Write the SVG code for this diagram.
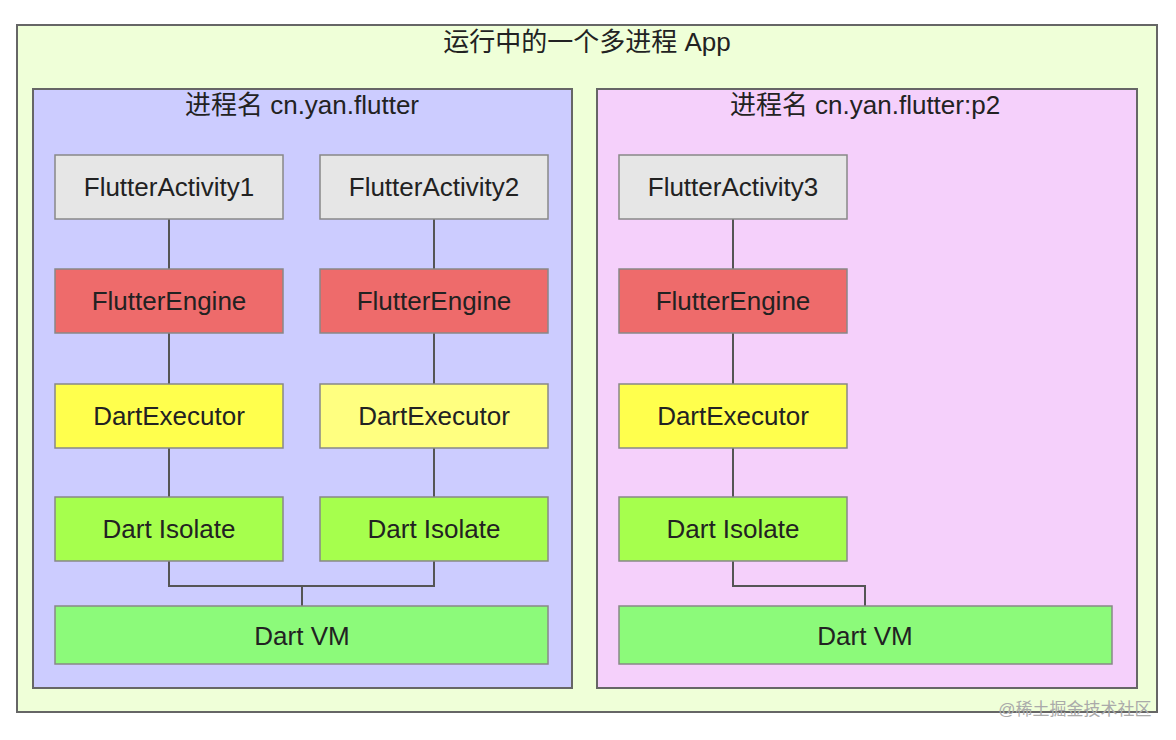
<svg xmlns="http://www.w3.org/2000/svg" width="1176" height="740" viewBox="0 0 1176 740">
<style>
text{font-family:"Liberation Sans","Noto Sans CJK SC",sans-serif;fill:#222;text-anchor:middle}
.t{font-size:26px}
.n{font-size:26px}
rect{stroke:#666;stroke-width:2}
.b{stroke:#888;stroke-width:1.5}
.c line,.c polyline{stroke:#555;stroke-width:2;fill:none}
</style>
<rect width="1176" height="740" fill="#fff" style="stroke:none"/>
<g id="app"><rect x="17" y="25" width="1140" height="687" fill="#efffd8"/><text class="t" x="587" y="51">运行中的一个多进程 App</text></g>
<g id="p1"><rect x="33" y="89" width="539" height="599" fill="#ccccff"/><text class="t" x="302" y="114">进程名 cn.yan.flutter</text></g>
<g id="p2"><rect x="597" y="89" width="540" height="599" fill="#f5d0fb"/><text class="t" x="865" y="114">进程名 cn.yan.flutter:p2</text></g>
<g class="c" id="connectors">
<line x1="169" y1="219" x2="169" y2="269"/><line x1="169" y1="333" x2="169" y2="384"/><line x1="169" y1="448" x2="169" y2="497"/>
<line x1="434" y1="219" x2="434" y2="269"/><line x1="434" y1="333" x2="434" y2="384"/><line x1="434" y1="448" x2="434" y2="497"/>
<line x1="733" y1="219" x2="733" y2="269"/><line x1="733" y1="333" x2="733" y2="384"/><line x1="733" y1="448" x2="733" y2="497"/>
<polyline points="169,561 169,586 434,586 434,561"/><line x1="302" y1="586" x2="302" y2="606"/>
<polyline points="733,561 733,586 865,586 865,606"/>
</g>
<g id="a1"><rect class="b" x="55" y="155" width="228" height="64" fill="#e6e6e6"/><text class="n" x="169" y="196">FlutterActivity1</text></g>
<g id="a2"><rect class="b" x="320" y="155" width="228" height="64" fill="#e6e6e6"/><text class="n" x="434" y="196">FlutterActivity2</text></g>
<g id="a3"><rect class="b" x="619" y="155" width="228" height="64" fill="#e6e6e6"/><text class="n" x="733" y="196">FlutterActivity3</text></g>
<g id="e1"><rect class="b" x="55" y="269" width="228" height="64" fill="#ee6b6b"/><text class="n" x="169" y="310">FlutterEngine</text></g>
<g id="e2"><rect class="b" x="320" y="269" width="228" height="64" fill="#ee6b6b"/><text class="n" x="434" y="310">FlutterEngine</text></g>
<g id="e3"><rect class="b" x="619" y="269" width="228" height="64" fill="#ee6b6b"/><text class="n" x="733" y="310">FlutterEngine</text></g>
<g id="x1"><rect class="b" x="55" y="384" width="228" height="64" fill="#ffff4d"/><text class="n" x="169" y="425">DartExecutor</text></g>
<g id="x2"><rect class="b" x="320" y="384" width="228" height="64" fill="#ffff80"/><text class="n" x="434" y="425">DartExecutor</text></g>
<g id="x3"><rect class="b" x="619" y="384" width="228" height="64" fill="#ffff4d"/><text class="n" x="733" y="425">DartExecutor</text></g>
<g id="i1"><rect class="b" x="55" y="497" width="228" height="64" fill="#a6ff4d"/><text class="n" x="169" y="538">Dart Isolate</text></g>
<g id="i2"><rect class="b" x="320" y="497" width="228" height="64" fill="#a6ff4d"/><text class="n" x="434" y="538">Dart Isolate</text></g>
<g id="i3"><rect class="b" x="619" y="497" width="228" height="64" fill="#a6ff4d"/><text class="n" x="733" y="538">Dart Isolate</text></g>
<g id="vm1"><rect class="b" x="55" y="606" width="493" height="58" fill="#8cfa7a"/><text class="n" x="302" y="645">Dart VM</text></g>
<g id="vm2"><rect class="b" x="619" y="606" width="493" height="58" fill="#8cfa7a"/><text class="n" x="865" y="645">Dart VM</text></g>
<text x="1075" y="715" style="font-size:17px;fill:#aaa">@稀土掘金技术社区</text>
</svg>
